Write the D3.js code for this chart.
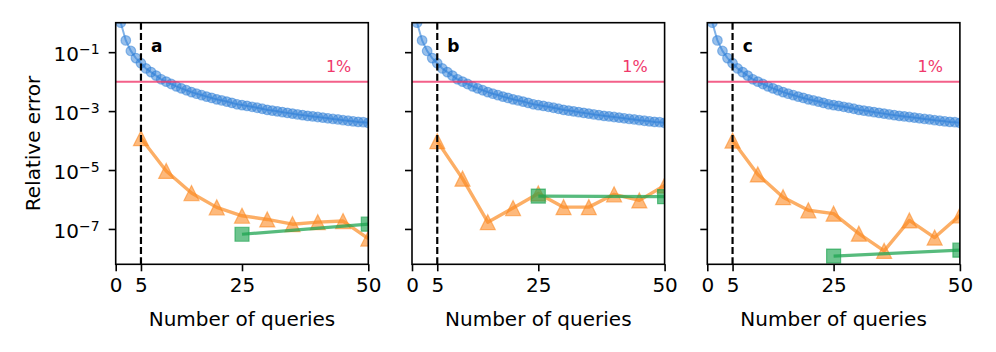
<!DOCTYPE html>
<html>
<head>
<meta charset="utf-8">
<script src="https://cdn.jsdelivr.net/npm/d3@7"></script>
<style>
  body { margin: 0; background: #fff; }
  svg { display: block; font-family: "DejaVu Sans", sans-serif; }
</style>
</head>
<body>
<svg id="chart" width="996" height="352"></svg>
<script>
// data
const panelLabels = ['a', 'b', 'c'];
const xTicks = [0, 5, 25, 50];
const yTickExps = [-1, -3, -5, -7];

// blue: every query 1..50 (same in all panels)
const blueQueries = d3.range(1, 51);
const blueErr = [
  1.0, 0.25, 0.11, 0.063, 0.042, 0.028, 0.021, 0.016, 0.012, 0.010,
  0.0083, 0.0069, 0.0059, 0.0051, 0.0044, 0.0039, 0.0035, 0.0031, 0.0028, 0.0025,
  0.0023, 0.0021, 0.0019, 0.0017, 0.0016, 0.0015, 0.0014, 0.0013, 0.0012, 0.0011,
  0.00104, 0.00098, 0.00092, 0.00087, 0.00082, 0.00077, 0.00073, 0.00069, 0.00066, 0.00063,
  0.00060, 0.00057, 0.00054, 0.00052, 0.00049, 0.00047, 0.00045, 0.00043, 0.00042, 0.00040
];

// orange: every 5 queries
const orangeQueries = [5, 10, 15, 20, 25, 30, 35, 40, 45, 50];
const orangeA = [1.2e-4, 9.3e-6, 1.65e-6, 5.4e-7, 2.8e-7, 2.1e-7, 1.45e-7, 1.7e-7, 1.85e-7, 4.7e-8];
const orangeB = [9.5e-5, 5.1e-6, 1.7e-7, 5.1e-7, 1.6e-6, 5.5e-7, 5.5e-7, 1.5e-6, 9.3e-7, 3.0e-6];
const orangeC = [1.0e-4, 7.1e-6, 1.2e-6, 4.3e-7, 3.3e-7, 6.9e-8, 1.8e-8, 1.95e-7, 5.1e-8, 2.9e-7];

// green: two points
const greenQueries = [25, 50];
const greenA = [6.6e-8, 1.45e-7];
const greenB = [1.3e-6, 1.25e-6];
const greenC = [1.2e-8, 1.9e-8];

const orangeSeries = [orangeA, orangeB, orangeC];
const greenSeries = [greenA, greenB, greenC];

const threshold = 0.01;
const cutoff = 5;

const blue = '#2f80d8', orange = '#fb8b24', green = '#1fa452', pink = '#f0386b';

const svg = d3.select('#chart');
const panelLeft = [115.7, 412, 707.3];
const pw = 252.6, panelTop = 22.7, ph = 241.6;

const x = d3.scaleLinear().domain([0, 50]).range([0, pw]);
const y = d3.scaleLog().domain([Math.pow(10, -8.2), 1]).range([ph, 0]);

// matplotlib-like "^" marker: bbox-centred triangle
const triUp = {
  draw(ctx, size) {
    const h = Math.sqrt(size) / 2;
    ctx.moveTo(0, -h);
    ctx.lineTo(h, h);
    ctx.lineTo(-h, h);
    ctx.closePath();
  }
};

panelLabels.forEach((lab, i) => {
  const g = svg.append('g').attr('transform', `translate(${panelLeft[i]},${panelTop})`);

  g.append('clipPath').attr('id', 'clip' + i)
    .append('rect').attr('width', pw).attr('height', ph);

  const plot = g.append('g').attr('clip-path', `url(#clip${i})`);

  const line = d3.line().x(d => x(d[0])).y(d => y(d[1]));

  // blue
  const bData = blueQueries.map((q, j) => [q, blueErr[j]]);
  plot.append('path').attr('d', line(bData))
    .attr('fill', 'none').attr('stroke', blue).attr('stroke-width', 2).attr('stroke-opacity', 0.6);
  plot.selectAll('.bc').data(bData).enter().append('circle')
    .attr('cx', d => x(d[0])).attr('cy', d => y(d[1])).attr('r', 4.8)
    .attr('fill', blue).attr('fill-opacity', 0.5)
    .attr('stroke', blue).attr('stroke-opacity', 0.5).attr('stroke-width', 1.2);

  // orange
  const oData = orangeQueries.map((q, j) => [q, orangeSeries[i][j]]);
  plot.append('path').attr('d', line(oData))
    .attr('fill', 'none').attr('stroke', orange).attr('stroke-width', 3.4).attr('stroke-opacity', 0.7)
    .attr('stroke-linejoin', 'round');
  plot.selectAll('.ot').data(oData).enter().append('path')
    .attr('transform', d => `translate(${x(d[0])},${y(d[1])})`)
    .attr('d', d3.symbol(triUp, 15 * 15))
    .attr('fill', orange).attr('fill-opacity', 0.6)
    .attr('stroke', orange).attr('stroke-opacity', 0.6).attr('stroke-width', 1.2);

  // green
  const gData = greenQueries.map((q, j) => [q, greenSeries[i][j]]);
  plot.append('path').attr('d', line(gData))
    .attr('fill', 'none').attr('stroke', green).attr('stroke-width', 3.2).attr('stroke-opacity', 0.75);
  plot.selectAll('.gs').data(gData).enter().append('path')
    .attr('transform', d => `translate(${x(d[0])},${y(d[1])})`)
    .attr('d', d3.symbol(d3.symbolSquare, 14 * 14))
    .attr('fill', green).attr('fill-opacity', 0.65)
    .attr('stroke', green).attr('stroke-opacity', 0.65).attr('stroke-width', 1.2);

  // 1% line
  plot.append('line')
    .attr('x1', 0).attr('x2', pw).attr('y1', y(threshold)).attr('y2', y(threshold))
    .attr('stroke', pink).attr('stroke-width', 2).attr('stroke-opacity', 0.8);
  g.append('text').attr('x', pw - 17).attr('y', y(threshold) - 9.5)
    .attr('text-anchor', 'end').attr('font-size', 16).attr('fill', pink).text('1%');

  // cutoff dashed line
  plot.append('line')
    .attr('x1', x(cutoff)).attr('x2', x(cutoff)).attr('y1', 0).attr('y2', ph)
    .attr('stroke', '#000').attr('stroke-width', 2.2).attr('stroke-dasharray', '7,3.2');

  // panel letter
  g.append('text').attr('x', x(7)).attr('y', 29.6)
    .attr('font-size', 17).attr('font-weight', 'bold').text(lab);

  // x axis
  const xa = g.append('g').attr('transform', `translate(0,${ph})`)
    .call(d3.axisBottom(x).tickValues(xTicks).tickSize(7).tickPadding(7).tickFormat(d3.format('d')));
  xa.select('.domain').remove();
  xa.selectAll('line').attr('stroke-width', 1.6);
  xa.selectAll('text').attr('font-size', 20).attr('font-family', '"DejaVu Sans", sans-serif').attr('fill', '#000');

  // y axis
  const ya = g.append('g')
    .call(d3.axisLeft(y).tickValues(yTickExps.map(e => Math.pow(10, e))).tickSize(7).tickFormat(''));
  ya.select('.domain').remove();
  ya.selectAll('line').attr('stroke-width', 1.6);
  if (i === 0) {
    ya.selectAll('.tick').append('text')
      .attr('x', -16).attr('y', 8.3).attr('text-anchor', 'end').attr('fill', '#000')
      .attr('font-family', '"DejaVu Sans", sans-serif')
      .each(function(d) {
        const t = d3.select(this);
        t.append('tspan').attr('font-size', 20).text('10');
        t.append('tspan').attr('font-size', 14).attr('dy', -6.8)
          .text('\u2212' + Math.abs(Math.round(Math.log10(d))));
      });
    g.append('text').attr('transform', `translate(${40 - panelLeft[0]},${ph / 2}) rotate(-90)`)
      .attr('text-anchor', 'middle').attr('font-size', 20).text('Relative error');
  }

  // frame
  g.append('rect').attr('width', pw).attr('height', ph)
    .attr('fill', 'none').attr('stroke', '#000').attr('stroke-width', 1.6);

  g.append('text').attr('x', pw / 2).attr('y', 326.5 - panelTop)
    .attr('text-anchor', 'middle').attr('font-size', 20).text('Number of queries');
});
</script>
</body>
</html>
